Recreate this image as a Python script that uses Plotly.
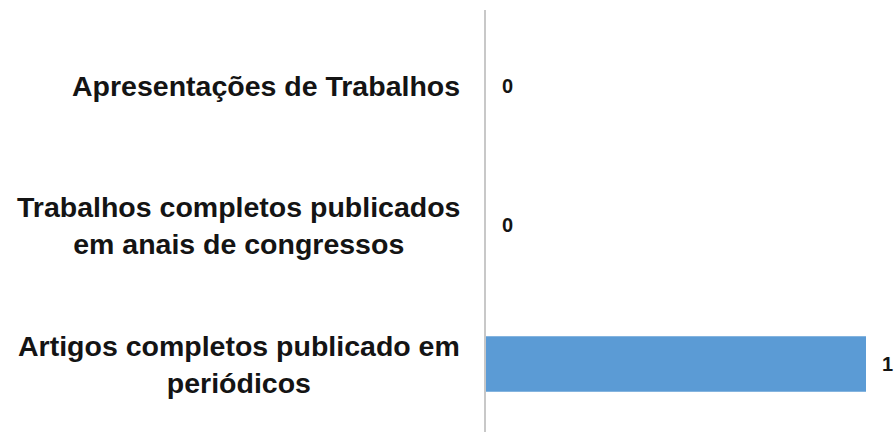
import plotly.graph_objects as go

categories = [
    "Artigos completos publicado em<br>periódicos",
    "Trabalhos completos publicados<br>em anais de congressos",
    "Apresentações de Trabalhos",
]
values = [1, 0, 0]
value_labels = ["1", "0", "0"]

BAR_COLOR = "#5B9BD5"
FONT = "Liberation Sans"

fig = go.Figure()
fig.add_trace(go.Bar(
    x=values,
    y=categories,
    orientation="h",
    marker=dict(color=BAR_COLOR, line=dict(width=0)),
    width=0.4,
    hoverinfo="skip",
))

annotations = []
for cat, val, lab in zip(categories, values, value_labels):
    annotations.append(dict(
        x=0, xref="paper", y=cat, yref="y",
        text="<b>" + cat.replace("<br>", "</b><br><b>") + "</b>",
        showarrow=False, xanchor="right", yanchor="middle", align="center",
        xshift=-24,
        font=dict(family=FONT, size=28.5, color="#141414"),
    ))
    annotations.append(dict(
        x=val, xref="x", y=cat, yref="y",
        text="<b>" + lab + "</b>",
        showarrow=False, xanchor="center", yanchor="middle",
        xshift=21,
        font=dict(family=FONT, size=20, color="#141414"),
    ))

fig.update_layout(
    width=896, height=432,
    margin=dict(l=486, r=30, t=10, b=0),
    paper_bgcolor="white", plot_bgcolor="white",
    showlegend=False,
    annotations=annotations,
    xaxis=dict(range=[0, 1], visible=False, showgrid=False, zeroline=False),
    yaxis=dict(
        type="category",
        range=[-0.489, 2.547],
        showline=True, linecolor="#c8c8c8", linewidth=2,
        showticklabels=False, ticks="", showgrid=False, zeroline=False,
    ),
)

fig.write_html("out.html")
